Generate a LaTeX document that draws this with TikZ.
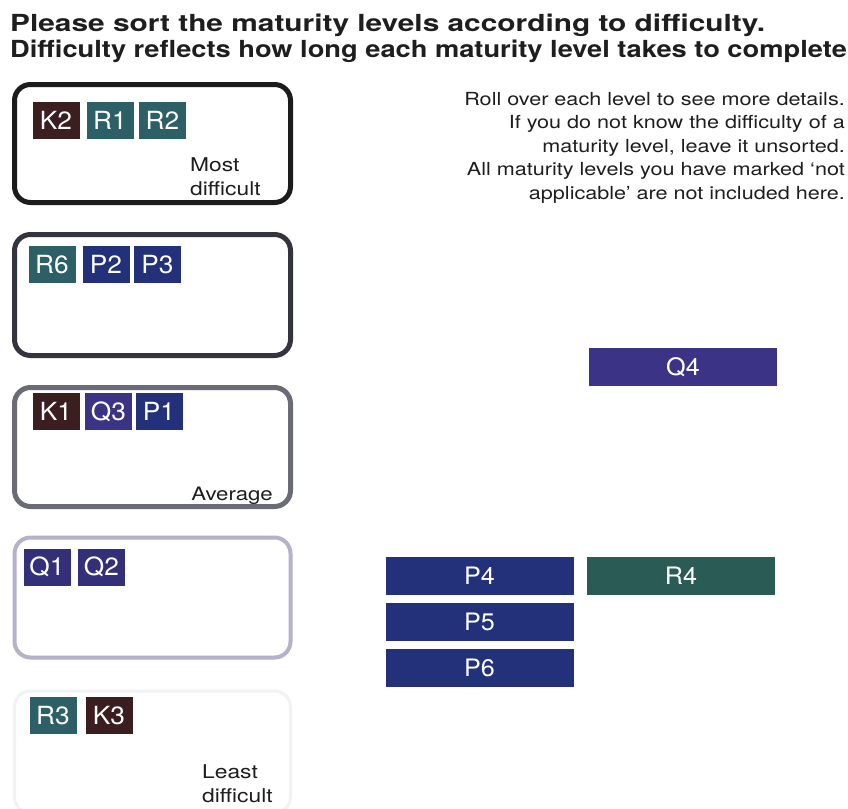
\documentclass[tikz,border=0pt]{standalone}
\usepackage{fontspec}
\setmainfont[FakeStretch=1.2]{TeX Gyre Heros}
\newfontfamily\titlefontA[FakeStretch=1.27]{TeX Gyre Heros}
\newfontfamily\titlefontB[FakeStretch=1.16]{TeX Gyre Heros}
\newfontfamily\barfont[FakeStretch=1.05]{TeX Gyre Heros}
\definecolor{kcol}{HTML}{3B1F20}
\definecolor{rcol}{HTML}{2D5F67}
\definecolor{rfour}{HTML}{2A5B55}
\definecolor{pcol}{HTML}{23307A}
\definecolor{qcol}{HTML}{332F78}
\definecolor{qfour}{HTML}{3B3386}
\definecolor{bone}{HTML}{1C1C1C}
\definecolor{btwo}{HTML}{34343F}
\definecolor{bthree}{HTML}{6B6B78}
\definecolor{bfour}{HTML}{B4B1C9}
\definecolor{bfive}{HTML}{F1F2F6}
\definecolor{txt}{HTML}{1E1E1E}
\begin{document}
\begin{tikzpicture}[x=1pt,y=-1pt,
  lvl/.style={draw, line width=5pt, rounded corners=16pt, minimum width=276pt, inner sep=0pt},
  tag/.style={minimum width=47pt, minimum height=37pt, inner sep=0pt, text=white, font=\barfont\fontsize{25}{25}\selectfont},
  bar/.style={minimum width=188pt, minimum height=38pt, inner sep=0pt, text=white, font=\barfont\fontsize{24}{24}\selectfont},
  note/.style={inner sep=0pt, text=txt, font=\fontsize{19}{24}\selectfont}]
\useasboundingbox (0,0) rectangle (848,808);
\fill[white] (0,0) rectangle (848,808);
% title
\node[anchor=base west, inner sep=0pt, align=left, text=txt, font=\bfseries\fontsize{23.5}{26}\selectfont] (title) at (10,58)
  {{\titlefontA\bfseries Please sort the maturity levels according to difficulty.}\\{\titlefontB\bfseries Difficulty reflects how long each maturity level takes to complete}};
% instructions
\node[note, anchor=base east, align=right, font=\fontsize{18}{23.5}\selectfont] (info) at (845,199)
  {Roll over each level to see more details.\\If you do not know the difficulty of a\\maturity level, leave it unsorted.\\All maturity levels you have marked `not\\applicable' are not included here.};
% level boxes
\node[lvl, draw=bone, minimum height=118pt] (b1) at (152.5,143.5) {};
\node[lvl, draw=btwo, minimum height=121pt] (b2) at (152.5,295) {};
\node[lvl, draw=bthree, minimum height=119pt] (b3) at (152.5,447) {};
\node[lvl, draw=bfour, line width=4pt, minimum height=120pt] (b4) at (152.5,597.5) {};
\node[lvl, draw=bfive, line width=3pt, minimum height=122pt] (b5) at (152.5,752) {};
% box labels
\node[note, anchor=base west, align=left] (most) at (190,195) {Most\\difficult};
\node[note, anchor=base east, font=\fontsize{18.5}{24}\selectfont] (avg) at (273,500) {Average};
\node[note, anchor=base west, align=left] (least) at (202,802) {Least\\difficult};
% tags
\node[tag, fill=kcol] (K2) at (56,120) {K2};
\node[tag, fill=rcol] (R1) at (110,120) {R1};
\node[tag, fill=rcol] (R2) at (162.5,120) {R2};
\node[tag, fill=rcol] (R6) at (52,264.5) {R6};
\node[tag, fill=pcol] (P2) at (106,264.5) {P2};
\node[tag, fill=pcol] (P3) at (157.5,264.5) {P3};
\node[tag, fill=kcol] (K1) at (56,411.5) {K1};
\node[tag, fill=qfour] (Q3) at (108.5,411.5) {Q3};
\node[tag, fill=pcol] (P1) at (159,411.5) {P1};
\node[tag, fill=qcol] (Q1) at (47,567) {Q1};
\node[tag, fill=qcol] (Q2) at (101.5,567) {Q2};
\node[tag, fill=rcol] (R3) at (53,715.5) {R3};
\node[tag, fill=kcol] (K3) at (109,715.5) {K3};
% unsorted bars
\node[bar, fill=qfour] (Q4) at (683,367) {Q4};
\node[bar, fill=pcol] (P4) at (479.5,576) {P4};
\node[bar, fill=rfour] (R4) at (681,576) {R4};
\node[bar, fill=pcol] (P5) at (479.5,622) {P5};
\node[bar, fill=pcol] (P6) at (479.5,668) {P6};
\end{tikzpicture}
\end{document}
